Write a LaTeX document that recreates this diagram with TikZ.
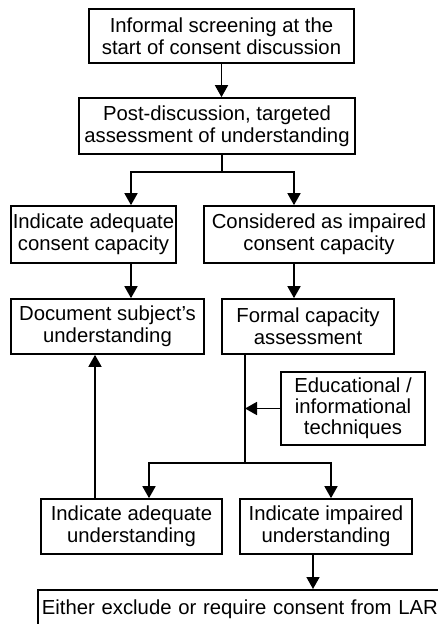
\documentclass[tikz,border=0pt]{standalone}
\usepackage{fontspec}
\setmainfont{Liberation Sans}
\usetikzlibrary{arrows.meta}
\tikzset{%
  flowbox/.style   = {shape=rectangle, draw, fill=white, align=center,%
                      line width=1.7pt, inner sep=0pt},%
  flowline/.style  = {line width=1.7pt},%
  flowarrow/.style = {flowline, -{Triangle[width=13pt,length=12pt]}}%
}

\begin{document}
\begin{tikzpicture}[x=1pt,y=-1pt,
	every node/.style = {font=\fontsize{20.3}{22}\selectfont}]
	\useasboundingbox (0,0) rectangle (438,624);
	% boxes
	\node[flowbox, minimum width=265, minimum height=54] (screen) at (221.5,36)
		{Informal screening at the\\start of consent discussion};
	\node[flowbox, minimum width=276, minimum height=56] (target) at (217,126)
		{Post-discussion, targeted\\assessment of understanding};
	\node[flowbox, minimum width=165, minimum height=57] (adeqcap) at (93.5,234.5)
		{Indicate adequate\\consent capacity};
	\node[flowbox, minimum width=230, minimum height=57] (impcap) at (319,234.5)
		{Considered as impaired\\consent capacity};
	\node[flowbox, minimum width=193, minimum height=55] (document) at (107.5,326.5)
		{Document subject's\\understanding};
	\node[flowbox, minimum width=172, minimum height=55] (formal) at (308,326.5)
		{Formal capacity\\assessment};
	\node[flowbox, minimum width=144, minimum height=73,
		font=\fontsize{20.3}{21}\selectfont] (educ) at (353,408.5)
		{Educational /\\informational\\techniques};
	\node[flowbox, minimum width=181, minimum height=55] (adeqund) at (131.5,526.5)
		{Indicate adequate\\understanding};
	\node[flowbox, minimum width=172, minimum height=55] (impund) at (326,526.5)
		{Indicate impaired\\understanding};
	\node[flowbox, anchor=north west, minimum height=38, text width=400,
		align=left, inner xsep=4pt] (lar) at (37,589)
		{Either exclude or require consent from LAR};
	% branch points
	\coordinate (colL) at (131,0);
	\coordinate (colR) at (294,0);
	\coordinate (split1) at (222,172);
	\coordinate (split2) at (245,463);
	\coordinate (backL) at (95,0);
	\coordinate (downL) at (149,0);
	\coordinate (downR) at (331,0);
	\coordinate (downLar) at (313,0);
	% connectors
	\draw[flowarrow] (screen.south) -- (screen.south |- target.north);
	\draw[flowline] (target.south -| split1) -- (split1);
	\draw[flowarrow] (split1) -| (colL |- adeqcap.north);
	\draw[flowarrow] (split1) -| (colR |- impcap.north);
	\draw[flowarrow] (colL |- adeqcap.south) -- (colL |- document.north);
	\draw[flowarrow] (colR |- impcap.south) -- (colR |- formal.north);
	\draw[flowline] (split2 |- formal.south) -- (split2);
	\draw[flowarrow] (educ.west) -- (educ.west -| split2);
	\draw[flowarrow] (split2) -| (downL |- adeqund.north);
	\draw[flowarrow] (split2) -| (downR |- impund.north);
	\draw[flowarrow] (backL |- adeqund.north) -- (backL |- document.south);
	\draw[flowarrow] (downLar |- impund.south) -- (downLar |- lar.north);
\end{tikzpicture}
\end{document}
